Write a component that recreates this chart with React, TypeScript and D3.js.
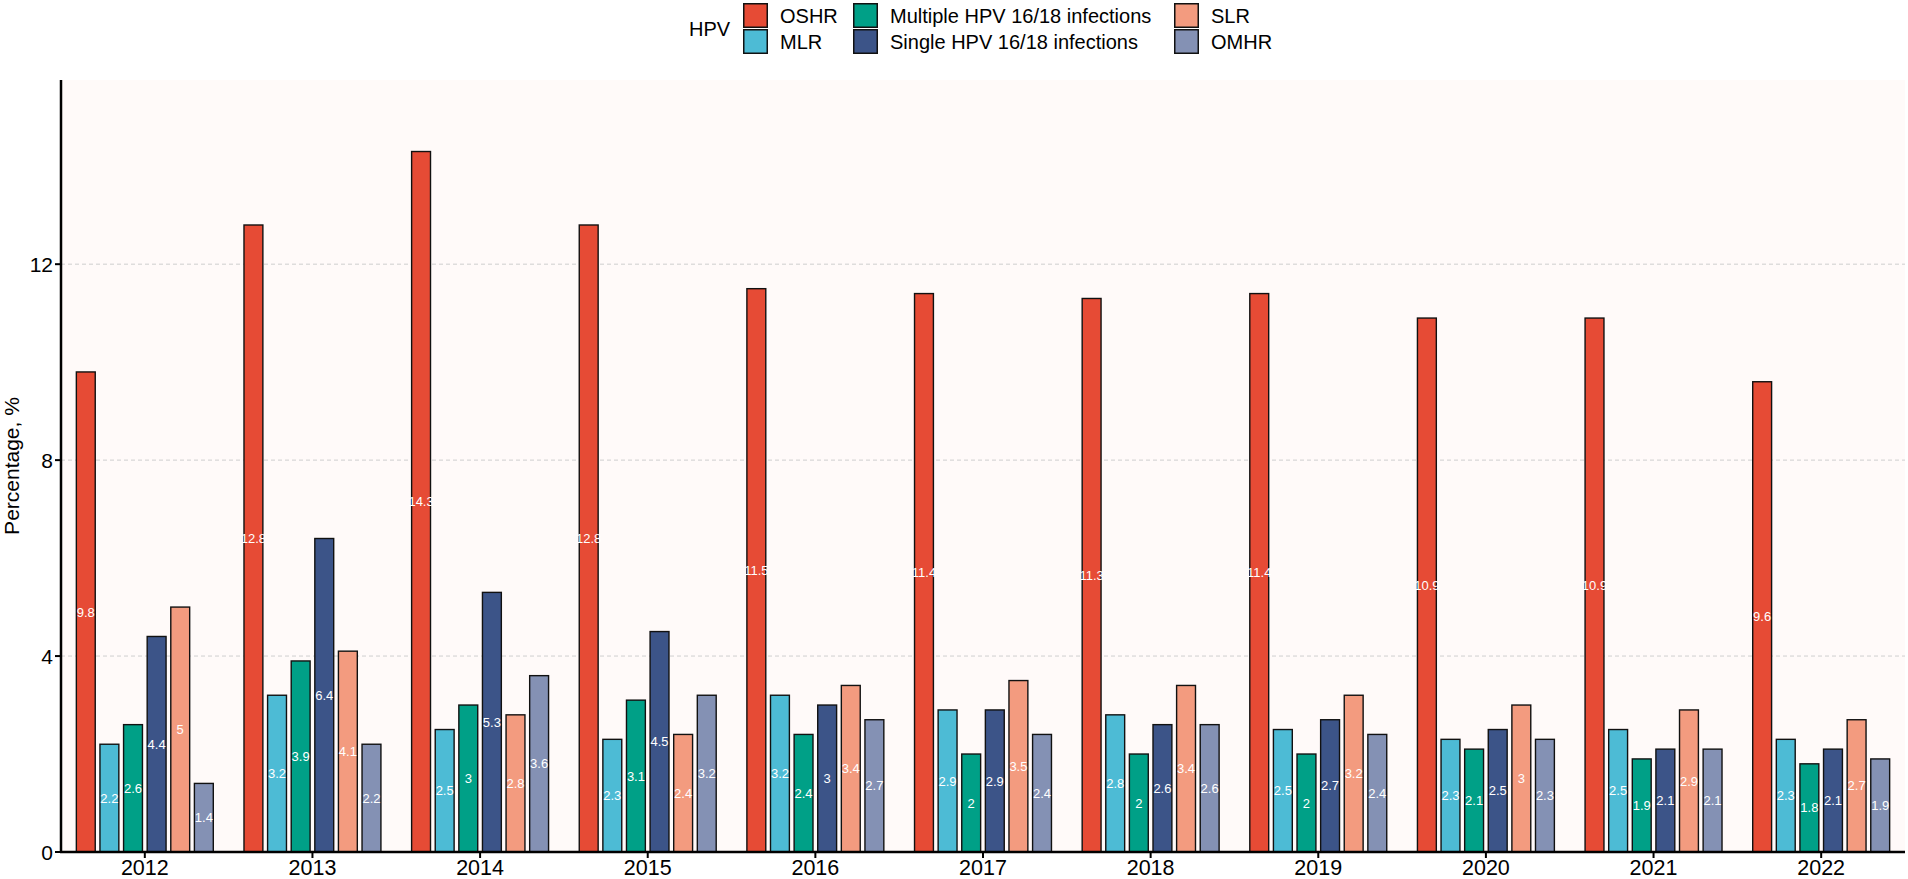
import * as d3 from 'd3';
import React, { useEffect, useRef } from 'react';

const years = ['2012', '2013', '2014', '2015', '2016', '2017', '2018', '2019', '2020', '2021', '2022'];
const seriesNames = ['OSHR', 'MLR', 'Multiple HPV 16/18 infections', 'Single HPV 16/18 infections', 'SLR', 'OMHR'];
const seriesColors = ['#E64B35', '#4DBBD5', '#00A087', '#3C5488', '#F39B7F', '#8491B4'];

const oshr = [9.8, 12.8, 14.3, 12.8, 11.5, 11.4, 11.3, 11.4, 10.9, 10.9, 9.6];
const mlr = [2.2, 3.2, 2.5, 2.3, 3.2, 2.9, 2.8, 2.5, 2.3, 2.5, 2.3];
const multiple = [2.6, 3.9, 3, 3.1, 2.4, 2, 2, 2, 2.1, 1.9, 1.8];
const single = [4.4, 6.4, 5.3, 4.5, 3, 2.9, 2.6, 2.7, 2.5, 2.1, 2.1];
const slr = [5, 4.1, 2.8, 2.4, 3.4, 3.5, 3.4, 3.2, 3, 2.9, 2.7];
const omhr = [1.4, 2.2, 3.6, 3.2, 2.7, 2.4, 2.6, 2.4, 2.3, 2.1, 1.9];

const yTicks = [0, 4, 8, 12];

const W = 1908;
const H = 879;
const FONT = '"Liberation Sans", Arial, sans-serif';

const App = () => {
  const svgRef = useRef<SVGSVGElement>(null);

  useEffect(() => {
    document.body.style.margin = '0';
    const svg = d3.select(svgRef.current);
    svg.selectAll('*').remove();

    const values = [oshr, mlr, multiple, single, slr, omhr];
    const rows = years.flatMap((year, i) =>
      seriesNames.map((s, j) => ({ year, series: s, value: values[j][i], color: seriesColors[j] })),
    );

    const left = 61;
    const right = 1905;
    const top = 80;
    const bottom = 852;

    const x = d3.scaleBand().domain(years).range([left, right]).padding(0);
    const xInner = d3
      .scaleBand()
      .domain(seriesNames)
      .range([0, x.step()])
      .paddingInner(0.2)
      .paddingOuter(0.65);
    const y = d3.scaleLinear().domain([0, 15.76]).range([bottom, top]);

    // panel
    svg
      .append('rect')
      .attr('x', left)
      .attr('y', top)
      .attr('width', right - left)
      .attr('height', bottom - top)
      .attr('fill', '#FFFAF9');

    // grid
    svg
      .append('g')
      .selectAll('line')
      .data(yTicks.filter((t) => t > 0))
      .enter()
      .append('line')
      .attr('x1', left)
      .attr('x2', right)
      .attr('y1', (d) => y(d))
      .attr('y2', (d) => y(d))
      .attr('stroke', '#cfcfcf')
      .attr('stroke-width', 1)
      .attr('stroke-dasharray', '4,3');

    // bars
    svg
      .append('g')
      .selectAll('rect')
      .data(rows)
      .enter()
      .append('rect')
      .attr('x', (d) => (x(d.year) as number) + (xInner(d.series) as number))
      .attr('y', (d) => y(d.value))
      .attr('width', xInner.bandwidth())
      .attr('height', (d) => y(0) - y(d.value))
      .attr('fill', (d) => d.color)
      .attr('stroke', '#111')
      .attr('stroke-width', 1.4);

    // value labels
    svg
      .append('g')
      .selectAll('text')
      .data(rows)
      .enter()
      .append('text')
      .attr('x', (d) => (x(d.year) as number) + (xInner(d.series) as number) + xInner.bandwidth() / 2)
      .attr('y', (d) => y(d.value / 2))
      .attr('dy', '0.35em')
      .attr('text-anchor', 'middle')
      .attr('fill', 'white')
      .attr('font-family', FONT)
      .attr('font-size', 13)
      .text((d) => String(d.value));

    // axes
    const yAxis = svg.append('g');
    yAxis
      .append('line')
      .attr('x1', left)
      .attr('x2', left)
      .attr('y1', top)
      .attr('y2', bottom + 1)
      .attr('stroke', 'black')
      .attr('stroke-width', 2.5);
    yAxis
      .selectAll('line.tick')
      .data(yTicks)
      .enter()
      .append('line')
      .attr('class', 'tick')
      .attr('x1', left - 6)
      .attr('x2', left)
      .attr('y1', (d) => y(d))
      .attr('y2', (d) => y(d))
      .attr('stroke', 'black')
      .attr('stroke-width', 2);
    yAxis
      .selectAll('text')
      .data(yTicks)
      .enter()
      .append('text')
      .attr('x', left - 8)
      .attr('y', (d) => y(d))
      .attr('dy', '0.36em')
      .attr('text-anchor', 'end')
      .attr('font-family', FONT)
      .attr('font-size', 21)
      .attr('fill', 'black')
      .text((d) => String(d));

    const xAxis = svg.append('g');
    xAxis
      .append('line')
      .attr('x1', left - 1)
      .attr('x2', right)
      .attr('y1', bottom)
      .attr('y2', bottom)
      .attr('stroke', 'black')
      .attr('stroke-width', 2.5);
    xAxis
      .selectAll('line.tick')
      .data(years)
      .enter()
      .append('line')
      .attr('class', 'tick')
      .attr('x1', (d) => (x(d) as number) + x.bandwidth() / 2)
      .attr('x2', (d) => (x(d) as number) + x.bandwidth() / 2)
      .attr('y1', bottom)
      .attr('y2', bottom + 6)
      .attr('stroke', 'black')
      .attr('stroke-width', 2);
    xAxis
      .selectAll('text')
      .data(years)
      .enter()
      .append('text')
      .attr('x', (d) => (x(d) as number) + x.bandwidth() / 2)
      .attr('y', 875)
      .attr('text-anchor', 'middle')
      .attr('font-family', FONT)
      .attr('font-size', 21.5)
      .attr('fill', 'black')
      .text((d) => d);

    svg
      .append('text')
      .attr('transform', `translate(19,${(top + bottom) / 2}) rotate(-90)`)
      .attr('text-anchor', 'middle')
      .attr('font-family', FONT)
      .attr('font-size', 21)
      .attr('fill', 'black')
      .text('Percentage, %');

    // legend
    const legend = svg.append('g');
    legend
      .append('text')
      .attr('x', 689)
      .attr('y', 29)
      .attr('dy', '0.35em')
      .attr('font-family', FONT)
      .attr('font-size', 20)
      .attr('fill', 'black')
      .text('HPV');
    const colX = [743, 853, 1174];
    const rowY = [3, 29];
    const keySize = 25;
    seriesNames.forEach((name, i) => {
      const col = Math.floor(i / 2);
      const row = i % 2;
      const g = legend.append('g').attr('transform', `translate(${colX[col]},${rowY[row]})`);
      g.append('rect')
        .attr('x', 0.75)
        .attr('y', 0.75)
        .attr('width', keySize - 1.5)
        .attr('height', keySize - 1.5)
        .attr('fill', seriesColors[i])
        .attr('stroke', '#111')
        .attr('stroke-width', 1.5);
      g.append('text')
        .attr('x', 37)
        .attr('y', keySize / 2)
        .attr('dy', '0.35em')
        .attr('font-family', FONT)
        .attr('font-size', 20)
        .attr('fill', 'black')
        .text(name);
    });
  }, []);

  return (
    <div style={{ position: 'absolute', left: 0, top: 0 }}>
      <svg ref={svgRef} width={W} height={H} style={{ display: 'block', background: 'white' }}></svg>
    </div>
  );
};

export default App;
